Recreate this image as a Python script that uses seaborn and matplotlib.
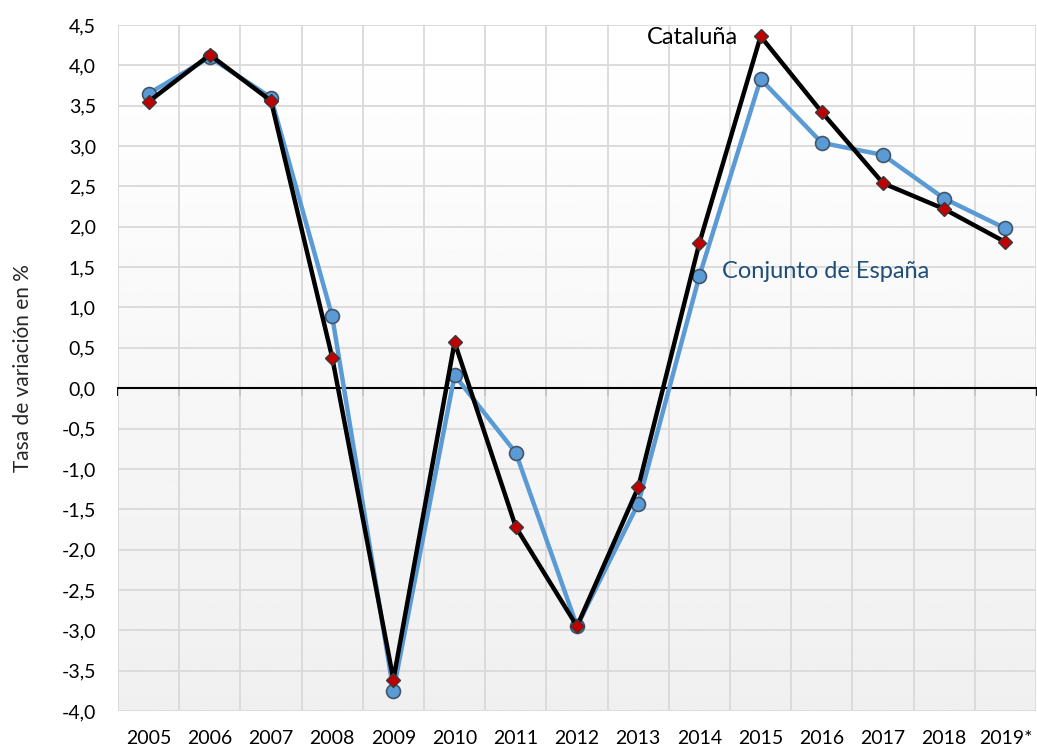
import numpy as np
import pandas as pd
import matplotlib.pyplot as plt
import seaborn as sns

sns.set_style("white")
plt.rcParams['font.family'] = ['Lato', 'DejaVu Sans']

# datos
years = ['2005', '2006', '2007', '2008', '2009', '2010', '2011', '2012',
         '2013', '2014', '2015', '2016', '2017', '2018', '2019*']
espana = [3.65, 4.10, 3.60, 0.89, -3.75, 0.16, -0.80, -2.95,
          -1.43, 1.39, 3.83, 3.04, 2.89, 2.35, 1.98]
cataluna = [3.55, 4.13, 3.56, 0.38, -3.61, 0.57, -1.72, -2.95,
            -1.23, 1.80, 4.36, 3.42, 2.54, 2.22, 1.81]
y_ticks = np.arange(-4.0, 4.51, 0.5)

df = pd.DataFrame({'x': range(len(years)), 'espana': espana, 'cataluna': cataluna})

fig = plt.figure(figsize=(10.37, 7.49), dpi=100)
ax = fig.add_axes([118 / 1037, 38 / 749, 918 / 1037, 686 / 749])

# fondo degradado blanco -> gris claro
grad = np.linspace(1.0, 0.94, 256).reshape(-1, 1)
ax.imshow(grad, cmap='gray', vmin=0, vmax=1, aspect='auto',
          extent=[-0.5, len(years) - 0.5, -4.0, 4.5], origin='upper', zorder=0)

ax.set_xlim(-0.5, len(years) - 0.5)
ax.set_ylim(-4.0, 4.5)

# rejilla
for yv in y_ticks:
    ax.axhline(yv, color='#d9d9d9', lw=1.3, zorder=1)
for xv in np.arange(-0.5, len(years), 1.0):
    ax.axvline(xv, color='#d9d9d9', lw=1.3, zorder=1)

sns.lineplot(data=df, x='x', y='espana', ax=ax, color='#5b9bd5', lw=3.2,
             marker='o', markersize=10, markerfacecolor='#5b9bd5',
             markeredgecolor='#44546a', markeredgewidth=1.2, zorder=3)
sns.lineplot(data=df, x='x', y='cataluna', ax=ax, color='black', lw=3.2,
             marker='D', markersize=7.5, markerfacecolor='#c00000',
             markeredgecolor='#3a3a3a', markeredgewidth=1.0, zorder=4)

# eje x en el cero, con marcas entre categorías
for s in ['top', 'right', 'left']:
    ax.spines[s].set_visible(False)
ax.spines['bottom'].set_position(('data', 0))
ax.spines['bottom'].set_color('black')
ax.spines['bottom'].set_linewidth(1.5)
ax.spines['bottom'].set_zorder(2)
ax.set_xticks(np.arange(-0.5, len(years), 1.0))
ax.tick_params(axis='x', bottom=True, direction='out', length=6, width=1.3,
               color='black', labelbottom=False)

sec = ax.secondary_xaxis(0.0)
sec.set_xticks(range(len(years)))
sec.set_xticklabels(years)
sec.tick_params(length=0, pad=14, labelsize=14, colors='black')
sec.spines['bottom'].set_visible(False)

ax.set_yticks(y_ticks)
ax.set_yticklabels([f'{v:.1f}'.replace('.', ',') for v in y_ticks])
ax.tick_params(axis='y', length=0, pad=16, labelsize=14, colors='black')

ax.set_xlabel('')
ax.set_ylabel('Tasa de variación en %', fontsize=15, labelpad=20)

ax.text(9.63, 4.35, 'Cataluña', fontsize=17, color='black', ha='right', va='center')
ax.text(9.37, 1.45, 'Conjunto de España', fontsize=17, color='#1f4e79',
        ha='left', va='center')

fig.savefig('out.png', dpi=100)
